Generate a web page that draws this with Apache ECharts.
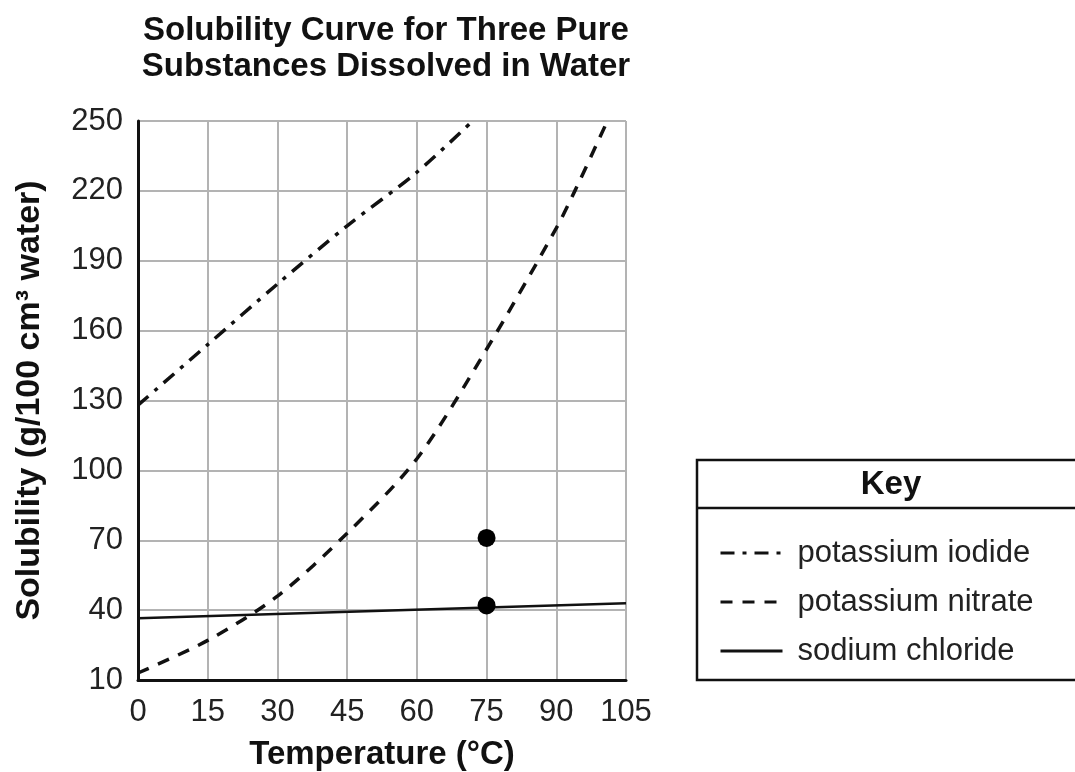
<!DOCTYPE html>
<html>
<head>
<meta charset="utf-8">
<script src="https://cdn.jsdelivr.net/npm/echarts@6/dist/echarts.min.js"></script>
<style>
html,body{margin:0;padding:0;background:#fff;}
#chart{width:1075px;height:772px;}
</style>
</head>
<body>
<div id="chart"></div>
<script>
// Data
const xTicks = [0, 15, 30, 45, 60, 75, 90, 105];
const yTicks = [10, 40, 70, 100, 130, 160, 190, 220, 250];
const seriesNames = ['potassium iodide', 'potassium nitrate', 'sodium chloride'];
const potassiumIodide = [[0, 128], [15, 154], [30, 180], [45, 205], [60, 228], [72, 250]];
const potassiumNitrate = [[0, 13], [15, 27], [30, 46], [45, 73], [60, 105], [75, 152], [90, 204], [94, 220], [101, 250]];
const sodiumChloride = [[0, 36.5], [105, 43]];
const markedPoints = [[75, 71], [75, 42]];

const FONT = '"Liberation Sans", Arial, sans-serif';
const chart = echarts.init(document.getElementById('chart'), null, {renderer: 'canvas'});

chart.setOption({
  animation: false,
  backgroundColor: '#ffffff',
  title: {
    text: 'Solubility Curve for Three Pure\nSubstances Dissolved in Water',
    left: 381,
    textAlign: 'center',
    top: 8,
    textStyle: {fontFamily: FONT, fontWeight: 'bold', fontSize: 33, lineHeight: 36, color: '#111'}
  },
  grid: {left: 138, right: 449, top: 121, bottom: 92, containLabel: false, outerBoundsMode: 'none'},
  xAxis: {
    type: 'value',
    min: 0, max: 105, interval: 15,
    name: 'Temperature (°C)',
    nameLocation: 'middle',
    nameGap: 58,
    nameTextStyle: {fontFamily: FONT, fontWeight: 'bold', fontSize: 33, color: '#111'},
    axisLine: {show: true, onZero: false, lineStyle: {color: '#111', width: 3}},
    axisTick: {show: false},
    axisLabel: {fontFamily: FONT, fontSize: 31, color: '#222', margin: 17,
      formatter: v => xTicks.includes(v) ? String(v) : ''},
    splitLine: {show: true, lineStyle: {color: '#b3b3b3', width: 2}}
  },
  yAxis: {
    type: 'value',
    min: 10, max: 250,
    name: 'Solubility (g/100 cm³ water)',
    nameLocation: 'middle',
    nameGap: 91,
    nameRotate: 90,
    nameTextStyle: {fontFamily: FONT, fontWeight: 'bold', fontSize: 34, color: '#111'},
    axisLine: {show: true, onZero: false, lineStyle: {color: '#111', width: 3}},
    axisTick: {show: false, customValues: yTicks},
    axisLabel: {fontFamily: FONT, fontSize: 31, color: '#222', margin: 15, customValues: yTicks},
    splitLine: {show: true, lineStyle: {color: '#b3b3b3', width: 2}}
  },
  legend: {
    data: seriesNames,
    orient: 'vertical',
    left: 714,
    top: 532,
    itemWidth: 62,
    itemHeight: 14,
    itemGap: 17,
    itemStyle: {opacity: 0},
    lineStyle: {width: 3},
    textStyle: {fontFamily: FONT, fontSize: 31, lineHeight: 32, color: '#222', padding: [0, 0, 0, 10]},
    selectedMode: false
  },
  graphic: [
    {type: 'rect', shape: {x: 697, y: 460, width: 420, height: 220},
      style: {fill: 'none', stroke: '#111', lineWidth: 2.5}, z: 1},
    {type: 'line', shape: {x1: 697, y1: 508, x2: 1080, y2: 508},
      style: {stroke: '#111', lineWidth: 2.5}, z: 1},
    {type: 'text', x: 891, y: 485,
      style: {text: 'Key', fontFamily: FONT, fontWeight: 'bold', fontSize: 33, fill: '#111',
        align: 'center', verticalAlign: 'middle'}, z: 2}
  ],
  series: [
    {name: seriesNames[0], type: 'line', data: potassiumIodide, smooth: 0.3, symbol: 'none',
      lineStyle: {color: '#111', width: 3.5, type: [14, 8, 4, 8]}, itemStyle: {color: '#111'}, z: 3},
    {name: seriesNames[1], type: 'line', data: potassiumNitrate, smooth: 0.3, symbol: 'none',
      lineStyle: {color: '#111', width: 3.5, type: [12, 10]}, itemStyle: {color: '#111'}, z: 3},
    {name: seriesNames[2], type: 'line', data: sodiumChloride, symbol: 'none',
      lineStyle: {color: '#111', width: 2.5, type: 'solid'}, itemStyle: {color: '#111'}, z: 3},
    {name: 'points', type: 'scatter', data: markedPoints, symbol: 'circle', symbolSize: 18,
      itemStyle: {color: '#000', opacity: 1}, z: 4}
  ]
});
</script>
</body>
</html>
